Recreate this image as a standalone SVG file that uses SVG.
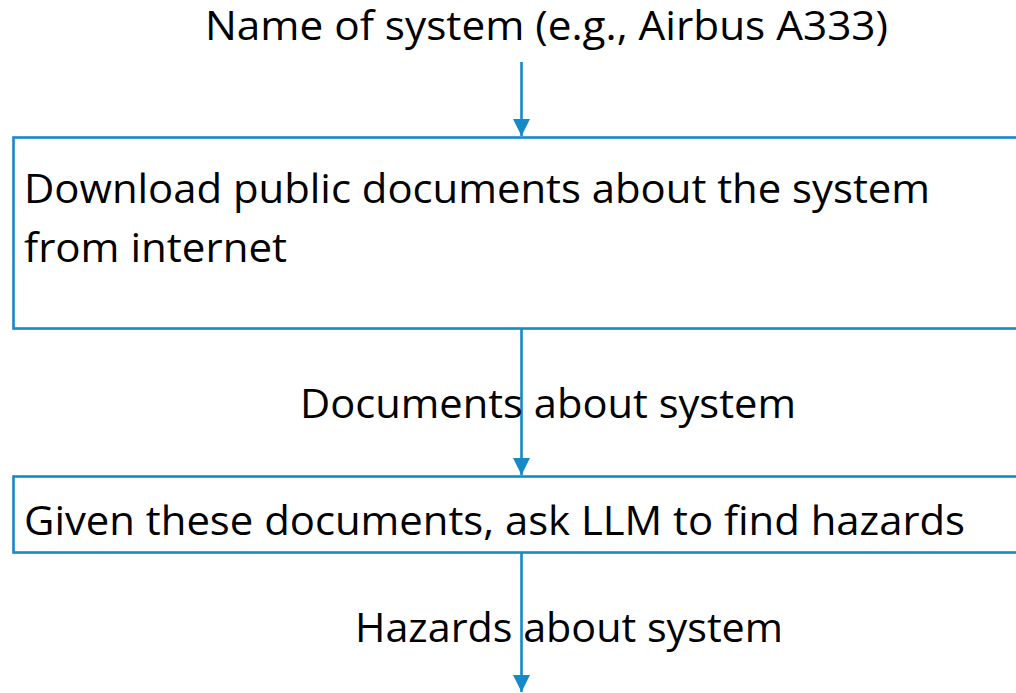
<svg xmlns="http://www.w3.org/2000/svg" width="1016" height="693" viewBox="0 0 1016 693">
  <style>
    .box { fill: #ffffff; stroke: #1689c7; stroke-width: 2.6; }
    .wire { fill: none; stroke: #1689c7; stroke-width: 2.6; }
    .lbl { font-family: "Open Sans", "Liberation Sans", sans-serif; font-size: 40px; fill: #000000; }
  </style>
  <defs>
    <!-- filled triangular arrowhead, sized in user units -->
    <marker id="head" markerUnits="userSpaceOnUse" markerWidth="18" markerHeight="18" viewBox="0 0 18 18" refX="17" refY="9" orient="auto">
      <path d="M0,0.5 L17,9 L0,17.5 Z" fill="#1689c7"/>
    </marker>
  </defs>

  <rect width="1016" height="693" fill="#ffffff"/>

  <g id="input-label">
    <text class="lbl" x="205" y="40" textLength="683" lengthAdjust="spacingAndGlyphs">Name of system (e.g., Airbus A333)</text>
  </g>

  <g id="download-step">
    <rect class="box" x="13.5" y="137.5" width="1040" height="191"/>
    <text class="lbl" x="24" y="203" textLength="906" lengthAdjust="spacingAndGlyphs">Download public documents about the system</text>
    <text class="lbl" x="24" y="262" textLength="263" lengthAdjust="spacingAndGlyphs">from internet</text>
  </g>

  <g id="llm-step">
    <rect class="box" x="13.5" y="476.5" width="1040" height="76"/>
    <text class="lbl" x="24" y="535" textLength="941" lengthAdjust="spacingAndGlyphs">Given these documents, ask LLM to find hazards</text>
  </g>

  <g id="connectors">
    <line class="wire" x1="521.5" y1="62" x2="521.5" y2="136" marker-end="url(#head)"/>
    <line class="wire" x1="521.5" y1="329" x2="521.5" y2="475" marker-end="url(#head)"/>
    <line class="wire" x1="521.5" y1="553" x2="521.5" y2="692" marker-end="url(#head)"/>
  </g>

  <g id="edge-labels">
    <text class="lbl" x="300" y="418" textLength="496" lengthAdjust="spacingAndGlyphs">Documents about system</text>
    <text class="lbl" x="355" y="642" textLength="428" lengthAdjust="spacingAndGlyphs">Hazards about system</text>
  </g>
</svg>
